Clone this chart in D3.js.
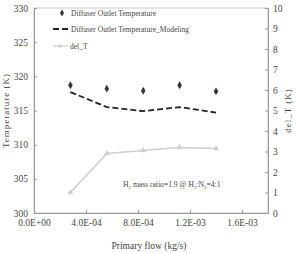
<!DOCTYPE html>
<html>
<head>
<meta charset="utf-8">
<script src="https://cdn.jsdelivr.net/npm/d3@7"></script>
<style>
  body { margin: 0; background: #fff; }
  text { font-family: "Liberation Serif", serif; }
</style>
</head>
<body>
<svg id="chart" width="296" height="253"></svg>
<script>
const flow = [2.8e-4, 5.6e-4, 8.4e-4, 1.12e-3, 1.4e-3];
const outletTemp = [318.7, 318.2, 317.9, 318.7, 317.8];
const outletTempModel = [317.7, 315.5, 314.9, 315.5, 314.7];
const delT = [1.0, 2.9, 3.05, 3.2, 3.15];
const xTicks = [0, 4e-4, 8e-4, 1.2e-3, 1.6e-3];
const yTicks = [300, 305, 310, 315, 320, 325, 330];
const y2Ticks = [0, 1, 2, 3, 4, 5, 6, 7, 8, 9, 10];

const svg = d3.select('#chart');
const L = 34, R = 268, T = 8, B = 213;
const AXIS = '#999', TXT = '#444';

const x = d3.scaleLinear().domain([0, 1.8e-3]).range([L, R]);
const y = d3.scaleLinear().domain([300, 330]).range([B, T]);
const y2 = d3.scaleLinear().domain([0, 10]).range([B, T]);

// frame
svg.append('rect').attr('x', L).attr('y', T).attr('width', R - L).attr('height', B - T)
  .attr('fill', 'none').attr('stroke', '#bbb').attr('stroke-width', 0.8);

const fmtE = d => d === 0 ? '0.0E+00' : d3.format('.1e')(d).replace('e-', 'E-0').toUpperCase();

// x axis
svg.append('g').attr('transform', `translate(0,${B})`)
  .call(d3.axisBottom(x).tickValues(xTicks).tickSize(-3).tickFormat(fmtE))
  .call(g => {
    g.select('.domain').attr('stroke', AXIS);
    g.selectAll('.tick line').attr('stroke', AXIS);
    g.selectAll('.tick text').attr('dy', '1.1em').attr('fill', TXT)
      .style('font-size', '9.5px').attr('font-family', 'Liberation Serif');
  });

// left y axis
svg.append('g').attr('transform', `translate(${L},0)`)
  .call(d3.axisLeft(y).tickValues(yTicks).tickSize(-3).tickFormat(d3.format('d')))
  .call(g => {
    g.select('.domain').attr('stroke', AXIS);
    g.selectAll('.tick line').attr('stroke', AXIS);
    g.selectAll('.tick text').attr('x', -6).attr('fill', TXT)
      .style('font-size', '9.5px').attr('font-family', 'Liberation Serif');
  });

// right y axis
svg.append('g').attr('transform', `translate(${R},0)`)
  .call(d3.axisRight(y2).tickValues(y2Ticks).tickSize(-3))
  .call(g => {
    g.select('.domain').attr('stroke', AXIS);
    g.selectAll('.tick line').attr('stroke', AXIS);
    g.selectAll('.tick text').attr('x', 5).attr('fill', TXT)
      .style('font-size', '9.5px').attr('font-family', 'Liberation Serif');
  });

// axis titles
svg.append('text').attr('transform', `translate(9,${(T + B) / 2}) rotate(-90)`)
  .attr('text-anchor', 'middle').attr('fill', TXT).style('font-size', '9px')
  .style('letter-spacing', '1px').text('Temperature (K)');
svg.append('text').attr('transform', `translate(291,${(T + B) / 2}) rotate(-90)`)
  .attr('text-anchor', 'middle').attr('fill', TXT).style('font-size', '9px')
  .style('letter-spacing', '1px').text('del_T (K)');
svg.append('text').attr('x', (L + R) / 2 - 2).attr('y', 249)
  .attr('text-anchor', 'middle').attr('fill', TXT).style('font-size', '9.5px')
  .text('Primary flow (kg/s)');

// del_T line
const line2 = d3.line().x((d, i) => x(flow[i])).y(d => y2(d));
svg.append('path').datum(delT).attr('d', line2)
  .attr('fill', 'none').attr('stroke', '#cfcfcf').attr('stroke-width', 1.5);
svg.selectAll('.tri').data(delT).enter().append('path')
  .attr('transform', (d, i) => `translate(${x(flow[i])},${y2(d)})`)
  .attr('d', d3.symbol(d3.symbolTriangle, 16)).attr('fill', '#cfcfcf');

// modeling dashed line
const line1 = d3.line().x((d, i) => x(flow[i])).y(d => y(d));
svg.append('path').datum(outletTempModel).attr('d', line1)
  .attr('fill', 'none').attr('stroke', '#222').attr('stroke-width', 1.8)
  .attr('stroke-dasharray', '6,3');

// diamonds
svg.selectAll('.dia').data(outletTemp).enter().append('path')
  .attr('transform', (d, i) => `translate(${x(flow[i])},${y(d)})`)
  .attr('d', d3.symbol(d3.symbolDiamond, 18)).attr('fill', '#333');

// legend
const lg = svg.append('g').style('font-size', '7.5px');
lg.append('path').attr('transform', 'translate(62,13)')
  .attr('d', d3.symbol(d3.symbolDiamond, 14)).attr('fill', '#333');
lg.append('text').attr('x', 71).attr('y', 15.5).attr('fill', TXT).text('Diffuser Outlet Temperature');
lg.append('line').attr('x1', 53).attr('x2', 70).attr('y1', 29).attr('y2', 29)
  .attr('stroke', '#222').attr('stroke-width', 1.8).attr('stroke-dasharray', '6,3');
lg.append('text').attr('x', 71).attr('y', 31.5).attr('fill', TXT).text('Diffuser Outlet Temperature_Modeling');
lg.append('line').attr('x1', 53).attr('x2', 68).attr('y1', 46).attr('y2', 46)
  .attr('stroke', '#cfcfcf').attr('stroke-width', 1.2);
lg.append('path').attr('transform', 'translate(60,46)')
  .attr('d', d3.symbol(d3.symbolTriangle, 8)).attr('fill', '#cfcfcf');
lg.append('text').attr('x', 70).attr('y', 48.5).attr('fill', TXT).text('del_T');

// annotation
const ann = svg.append('text').attr('x', 123).attr('y', 187).attr('fill', TXT).style('font-size', '7.6px');
ann.append('tspan').text('H');
ann.append('tspan').attr('dy', 2).style('font-size', '5px').text('2');
ann.append('tspan').attr('dy', -2).text(' mass ratio=1.9 @ H');
ann.append('tspan').attr('dy', 2).style('font-size', '5px').text('2');
ann.append('tspan').attr('dy', -2).text(':N');
ann.append('tspan').attr('dy', 2).style('font-size', '5px').text('2');
ann.append('tspan').attr('dy', -2).text('=4:1');
</script>
</body>
</html>
